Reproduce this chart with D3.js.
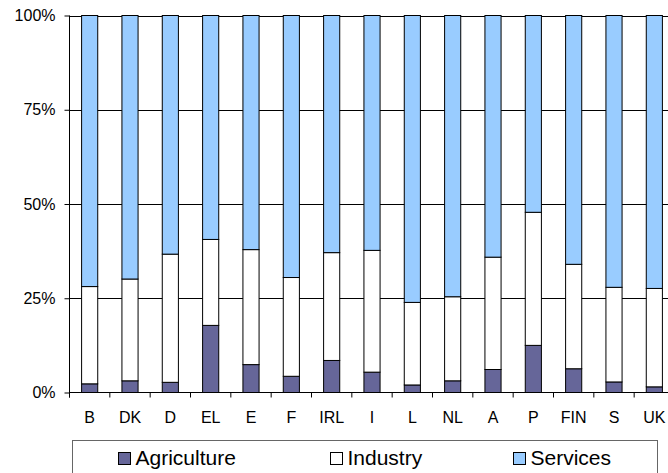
<!DOCTYPE html>
<html><head><meta charset="utf-8">
<script src="https://cdn.jsdelivr.net/npm/d3@7"></script>
<style>
html,body{margin:0;padding:0;background:#fff;}
svg{display:block;}
svg text{font-family:"Liberation Sans",Arial,Helvetica,sans-serif;}
</style></head>
<body>
<svg id="chart" width="668" height="473"></svg>
<script>
const countries = ["B","DK","D","EL","E","F","IRL","I","L","NL","A","P","FIN","S","UK"];
const agriculture = [2.3,3.1,2.7,17.8,7.4,4.3,8.5,5.4,2.0,3.1,6.1,12.5,6.3,2.8,1.5];
const industry    = [25.8,27.0,34.0,22.8,30.5,26.2,28.6,32.3,21.9,22.3,29.8,35.3,27.7,25.1,26.1];
const services    = [71.9,69.9,63.3,59.4,62.1,69.5,62.9,62.3,76.1,74.6,64.1,52.2,66.0,72.1,72.4];
const seriesNames = ["Agriculture","Industry","Services"];
const yTicks = [0,0.25,0.5,0.75,1];
const colors = ["#666699","#ffffff","#99ccff"];

const rows = countries.map((c,i)=>{
  const t = agriculture[i]+industry[i]+services[i];
  return {country:c, Agriculture:agriculture[i]/t, Industry:industry[i]/t, Services:services[i]/t};
});
const stacked = d3.stack().keys(seriesNames)(rows);

const svg = d3.select("#chart");
const x0 = 69.5, x1 = 674.5, yTop = 15.5, yBot = 392.5;
const x = d3.scaleBand().domain(countries).range([x0,x1]).paddingInner(0.6).paddingOuter(0.3);
const y = d3.scaleLinear().domain([0,1]).range([yBot,yTop]);

svg.append("g").selectAll("line").data(yTicks.filter(d=>d>0)).join("line")
  .attr("x1",x0).attr("x2",x1).attr("y1",d=>Math.round(y(d))+0.5).attr("y2",d=>Math.round(y(d))+0.5)
  .attr("stroke","#000").attr("stroke-width",1);

const g = svg.append("g");
stacked.forEach((s,si)=>{
  g.append("g").selectAll("rect").data(s).join("rect")
    .attr("x",d=>x(d.data.country))
    .attr("width",x.bandwidth())
    .attr("y",d=>y(d[1]))
    .attr("height",d=>y(d[0])-y(d[1]))
    .attr("fill",colors[si])
    .attr("stroke","#000").attr("stroke-width",1);
});

const yAxis = d3.axisLeft(y).tickValues(yTicks).tickFormat(d3.format(".0%")).tickSize(5).tickPadding(9);
const ya = svg.append("g").attr("transform",`translate(${x0},0)`).call(yAxis);
ya.attr("font-family",null).attr("font-size",null);
ya.select(".domain").attr("d",`M0,${yTop}V${yBot+5}`).attr("stroke","#000");
ya.selectAll("text").attr("font-size",16).attr("fill","#000");
ya.selectAll(".tick line").attr("stroke","#000");

const xa = svg.append("g").attr("transform",`translate(0,${yBot})`);
xa.append("line").attr("x1",x0).attr("x2",x1).attr("stroke","#000");
const bounds = d3.range(countries.length+1).map(i=>x0+i*(x1-x0)/countries.length);
xa.selectAll("line.t").data(bounds).join("line").attr("class","t")
  .attr("x1",d=>d).attr("x2",d=>d).attr("y1",0).attr("y2",5).attr("stroke","#000");
xa.selectAll("text").data(countries).join("text")
  .attr("x",d=>x(d)+x.bandwidth()/2).attr("y",30.5)
  .attr("text-anchor","middle").attr("font-size",16).attr("fill","#000").text(d=>d);

const lg = svg.append("g");
lg.append("rect").attr("x",72.5).attr("y",440.5).attr("width",585).attr("height",40)
  .attr("fill","#fff").attr("stroke","#666").attr("stroke-width",1);
const lx = [118.5,330.5,513.5];
seriesNames.forEach((n,i)=>{
  lg.append("rect").attr("x",lx[i]).attr("y",452.5).attr("width",12).attr("height",12)
    .attr("fill",colors[i]).attr("stroke","#000");
  lg.append("text").attr("x",lx[i]+17).attr("y",464.5).attr("font-size",21).attr("fill","#000").text(n);
});
</script>
</body></html>
